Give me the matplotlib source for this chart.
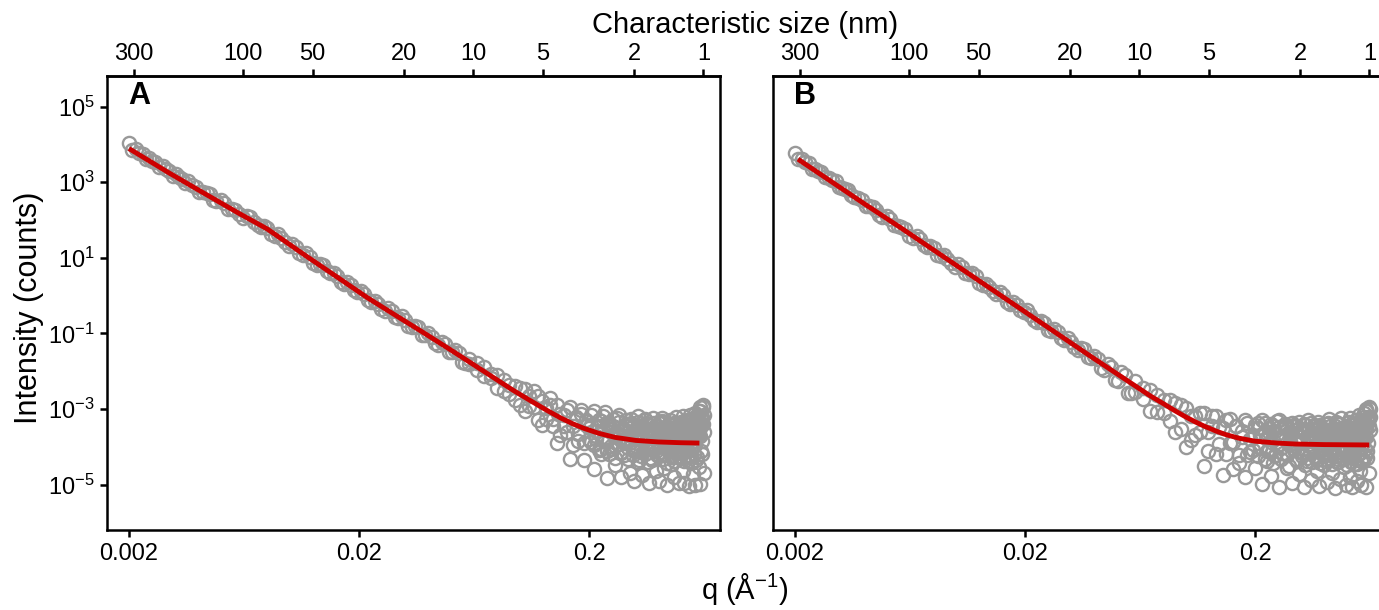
import numpy as np
import matplotlib
matplotlib.use("Agg")
import matplotlib.pyplot as plt
from matplotlib.ticker import NullLocator

plt.rcParams['font.family'] = 'Liberation Sans'
plt.rcParams['mathtext.fontset'] = 'custom'
plt.rcParams['mathtext.rm'] = 'Liberation Sans'
plt.rcParams['mathtext.it'] = 'Liberation Sans:italic'
plt.rcParams['mathtext.bf'] = 'Liberation Sans:bold'

# q grid (1/Å): low-q part (two interleaved sets) and high-q part
q_lo = [0.0020, 0.00215, 0.0023, 0.00245, 0.0026, 0.0028, 0.0030, 0.0032, 0.0034, 0.0036,
        0.0039, 0.0042, 0.0045, 0.0048, 0.0052, 0.0056, 0.0060, 0.0065, 0.0070, 0.0075,
        0.0080, 0.0086, 0.0092, 0.0099, 0.0106, 0.0114, 0.0122, 0.0131, 0.0140, 0.0150,
        0.0161, 0.0172, 0.0184, 0.0197, 0.0211, 0.0226, 0.0242, 0.0259, 0.0277, 0.0296,
        0.0317, 0.0339, 0.0362, 0.0387, 0.0414, 0.0443, 0.0474, 0.0507, 0.0542, 0.0580]
q_lo2 = [0.00207, 0.00222, 0.00237, 0.00252, 0.0027, 0.0029, 0.0031, 0.0033, 0.0035, 0.00375,
         0.00405, 0.00435, 0.00465, 0.0050, 0.0054, 0.0058, 0.00625, 0.00675, 0.00725, 0.00775,
         0.0083, 0.0089, 0.00955, 0.01025, 0.0110, 0.0118, 0.01265, 0.01355, 0.0145, 0.01555,
         0.01665, 0.0178, 0.01905, 0.0204, 0.02185, 0.0234, 0.02505, 0.0268, 0.02865, 0.03065,
         0.0328, 0.03505, 0.03745, 0.04005, 0.04285, 0.04585, 0.04905, 0.05245, 0.0561]
q_hi = [0.060, 0.065, 0.070, 0.075, 0.080, 0.085, 0.090, 0.095, 0.100, 0.105,
        0.110, 0.115, 0.120, 0.125, 0.130, 0.135, 0.140, 0.145, 0.150, 0.155,
        0.160, 0.165, 0.170, 0.175, 0.180, 0.185, 0.190, 0.195, 0.200, 0.205,
        0.210, 0.215, 0.220, 0.225, 0.230, 0.235, 0.240, 0.245, 0.250, 0.255,
        0.260, 0.265, 0.270, 0.275, 0.280, 0.285, 0.290, 0.295, 0.300, 0.305,
        0.310, 0.315, 0.320, 0.325, 0.330, 0.335, 0.340, 0.345, 0.350, 0.355,
        0.360, 0.365, 0.370, 0.375, 0.380, 0.385, 0.390, 0.395, 0.400, 0.405,
        0.410, 0.415, 0.420, 0.425, 0.430, 0.435, 0.440, 0.445, 0.450, 0.455,
        0.460, 0.465, 0.470, 0.475, 0.480, 0.485, 0.490, 0.495, 0.500, 0.505,
        0.510, 0.515, 0.520, 0.525, 0.530, 0.535, 0.540, 0.545, 0.550, 0.555,
        0.560, 0.565, 0.570, 0.575, 0.580, 0.585, 0.590, 0.595, 0.600, 0.605,
        0.610, 0.615, 0.620, 0.625, 0.630]
q_pl = q_hi[29:]  # plateau part, 0.205 and up

# log10(intensity) -- panel A
lg_lo_a = [4.03, 3.87, 3.75, 3.65, 3.53, 3.43, 3.29, 3.21, 3.08, 3.02,
           2.88, 2.74, 2.68, 2.50, 2.44, 2.30, 2.15, 2.11, 1.96, 1.81,
           1.79, 1.58, 1.53, 1.31, 1.29, 1.08, 1.03, 0.81, 0.81, 0.60,
           0.52, 0.31, 0.29, 0.09, 0.05, -0.16, -0.21, -0.40, -0.40, -0.58,
           -0.64, -0.84, -0.83, -1.03, -1.10, -1.30, -1.29, -1.50, -1.51, -1.77]
lg_lo2_a = [3.85, 3.78, 3.61, 3.56, 3.41, 3.35, 3.17, 3.13, 2.98, 2.92,
            2.74, 2.72, 2.52, 2.52, 2.30, 2.26, 2.06, 2.08, 1.86, 1.85,
            1.62, 1.62, 1.41, 1.37, 1.13, 1.12, 0.86, 0.84, 0.64, 0.61,
            0.36, 0.36, 0.14, 0.13, -0.12, -0.13, -0.36, -0.34, -0.56, -0.55,
            -0.79, -0.79, -1.03, -1.00, -1.26, -1.22, -1.50, -1.43, -1.75]
lg_hi_a = [-1.68, -1.98, -1.89, -2.18, -2.09, -2.52, -2.36,
           -2.75, -2.43, -3.04, -2.66, -2.95, -2.65, -3.41, -2.98,
           -2.88, -3.44, -3.90, -3.13, -3.45, -3.03, -4.31, -3.44, -3.20, -3.85, -3.12, -4.35, -3.42, -3.80,
           -3.17, -4.58, -3.80, -3.46, -4.18, -3.19, -3.76, -4.82, -3.40, -4.05,
           -3.66, -4.47, -3.23, -3.92, -4.79, -3.55, -4.21, -3.44, -3.85, -4.68,
           -3.38, -4.08, -4.90, -3.68, -4.40, -3.44, -3.82, -4.75, -3.55, -4.20,
           -3.36, -3.99, -4.96, -3.76, -4.36, -3.54, -4.06, -4.64, -3.44, -3.90,
           -4.91, -3.68, -4.21, -3.34, -4.56, -3.84, -5.01, -3.56, -4.11, -3.41,
           -4.46, -3.96, -3.64, -4.81, -3.48, -4.28, -3.76, -4.96, -3.58, -4.16,
           -3.33, -4.63, -3.83, -4.96, -3.53, -4.08, -3.28, -4.38, -5.03, -3.73,
           -4.23, -3.40, -4.73, -3.63, -3.93, -5.00, -3.18, -4.28, -3.58, -4.53,
           -3.04, -4.99, -3.39, -4.19, -2.94, -4.69]
lg_hi2_a = [-1.82, -1.78, -2.13, -2.07, -2.44, -2.22, -2.59,
            -2.38, -2.89, -2.47, -2.91, -2.53, -3.30, -2.78, -3.27,
            -2.72, -3.25, -2.90, -3.68, -3.17, -3.61, -2.95, -3.94, -3.27, -3.65, -3.03, -3.89, -3.28, -3.50,
            -3.87, -3.05, -3.57, -4.09, -3.31, -3.82, -3.09, -4.10, -3.52, -3.98,
            -3.27, -4.30, -3.66, -3.15, -4.13, -3.49, -3.90, -3.28, -4.31, -3.67,
            -3.27, -4.22, -3.57, -3.98, -3.19, -4.34, -3.76, -3.44, -4.14, -3.27,
            -3.90, -4.40, -3.53, -3.70, -4.31, -3.24, -4.06, -3.41, -4.21, -3.67,
            -3.38, -4.13, -3.23, -4.33, -3.76, -3.50, -4.43, -3.60, -4.00, -3.28,
            -4.23, -3.70, -3.40, -4.38, -3.83, -3.20, -4.16, -3.53, -4.28, -3.33,
            -4.09, -3.47, -3.19, -4.37, -3.67, -3.99, -3.31, -4.27, -3.59, -3.17,
            -4.44, -3.77, -3.39, -4.19, -3.11, -3.84, -4.34, -3.24, -3.64, -3.04,
            -3.45, -2.95, -4.10, -3.20, -2.90, -3.60]
lg_pl_a = [-3.42, -3.95, -3.70, -3.30, -4.05, -3.55, -3.85, -3.38, -4.20, -3.62,
           -3.45, -3.98, -3.72, -3.35, -4.15, -3.58, -3.80, -3.40, -4.02, -3.50,
           -3.88, -3.45, -3.70, -4.10, -3.35, -3.60, -4.25, -3.52, -3.80, -3.30,
           -4.00, -3.65, -3.42, -4.30, -3.58, -3.75, -3.38, -4.12, -3.55, -3.85,
           -3.60, -3.95, -3.32, -3.75, -4.18, -3.48, -3.68, -4.05, -3.40, -3.82,
           -3.55, -4.28, -3.62, -3.36, -3.92, -3.50, -4.08, -3.70, -3.44, -3.98,
           -3.56, -3.90, -3.38, -4.12, -3.64, -3.46, -3.85, -4.22, -3.52, -3.34,
           -3.78, -4.02, -3.48, -3.66, -3.30, -3.95, -3.58, -3.40, -3.72, -3.36,
           -3.50, -3.70, -3.25, -3.85, -3.40, -3.15]

# panel B
lg_lo_b = [3.78, 3.61, 3.52, 3.35, 3.28, 3.11, 3.02, 2.85, 2.79, 2.61,
           2.54, 2.36, 2.27, 2.09, 2.03, 1.83, 1.75, 1.53, 1.49, 1.30,
           1.27, 1.04, 0.98, 0.77, 0.76, 0.56, 0.53, 0.28, 0.24, 0.05,
           0.02, -0.22, -0.24, -0.43, -0.50, -0.71, -0.72, -0.93, -0.95, -1.18,
           -1.22, -1.45, -1.42, -1.66, -1.68, -1.97, -1.89, -2.27, -2.11, -2.58]
lg_lo2_b = [3.62, 3.54, 3.35, 3.29, 3.14, 3.06, 2.87, 2.81, 2.65, 2.58,
            2.38, 2.34, 2.13, 2.11, 1.87, 1.82, 1.59, 1.58, 1.34, 1.31,
            1.08, 1.07, 0.87, 0.83, 0.59, 0.59, 0.33, 0.31, 0.11, 0.09,
            -0.17, -0.17, -0.39, -0.39, -0.64, -0.67, -0.90, -0.89, -1.12, -1.12,
            -1.37, -1.38, -1.63, -1.60, -1.91, -1.81, -2.23, -2.03, -2.57]
lg_hi_b = [-2.54, -2.43, -3.06, -2.64, -3.11, -2.76, -3.60,
           -2.88, -4.01, -3.18, -3.69, -3.10, -4.50, -3.60, -3.19,
           -4.18, -3.47, -4.75, -3.28, -3.91, -4.58, -3.45, -4.22, -3.74, -4.80, -3.36, -4.13, -3.72, -4.55,
           -3.37, -4.02, -4.97, -3.62, -4.37, -3.49, -4.77, -3.82, -4.22, -3.32,
           -5.06, -3.73, -4.16, -3.49, -4.56, -3.96, -3.61, -4.96, -3.43, -4.31,
           -3.83, -4.73, -3.58, -4.13, -5.05, -3.41, -4.38, -3.78, -3.98, -4.88,
           -3.53, -4.23, -3.71, -4.63, -3.88, -5.03, -3.48, -4.08, -3.65, -4.48,
           -3.56, -4.94, -3.82, -4.29, -3.44, -4.69, -4.04, -3.64, -5.09, -3.74,
           -4.39, -3.39, -4.14, -4.84, -3.59, -3.99, -4.54, -3.49, -5.02, -3.79,
           -4.25, -3.35, -4.80, -3.70, -4.10, -5.07, -3.53, -4.45, -3.85, -3.30,
           -4.90, -4.20, -3.60, -4.65, -3.45, -5.00, -3.75, -4.35, -3.20, -4.05,
           -5.05, -3.05, -4.30, -3.35, -4.70, -3.00]
lg_hi2_b = [-2.26, -2.73, -2.50, -3.07, -2.76, -3.31, -2.85,
            -3.53, -2.96, -3.83, -3.19, -3.60, -3.10, -4.10, -3.44,
            -3.18, -3.92, -3.50, -4.18, -3.26, -3.88, -3.45, -4.42, -3.59, -3.30, -4.21, -3.78, -4.09, -3.43,
            -4.23, -3.68, -3.30, -4.33, -3.78, -4.08, -3.40, -4.43, -3.58, -3.98,
            -3.29, -4.31, -3.76, -3.46, -4.21, -4.51, -3.66, -3.36, -4.06, -3.56,
            -4.38, -3.33, -3.88, -4.23, -3.53, -4.48, -3.73, -3.28, -4.13, -3.83,
            -4.41, -3.43, -3.68, -4.28, -3.35, -4.03, -4.43, -3.55, -3.81, -4.18,
            -3.39, -4.34, -3.74, -3.26, -4.09, -4.46, -3.59, -3.86, -4.24, -3.34,
            -3.72, -4.39, -3.52, -3.99, -3.24, -4.32, -3.79, -4.14, -3.44, -4.49,
            -3.65, -4.20, -3.23, -4.40, -3.85, -3.40, -4.30, -3.70, -4.05, -3.30,
            -4.45, -3.55, -3.17, -4.15, -3.80, -4.37, -3.35, -3.90, -3.10, -4.25,
            -3.45, -3.00, -4.10, -3.20, -2.95, -3.55]
lg_pl_b = [-3.50, -4.00, -3.72, -3.38, -4.12, -3.60, -3.88, -3.45, -4.25, -3.66,
           -3.48, -4.02, -3.76, -3.40, -4.18, -3.62, -3.85, -3.44, -4.08, -3.55,
           -3.92, -3.50, -3.74, -4.15, -3.40, -3.64, -4.30, -3.56, -3.84, -3.36,
           -4.04, -3.70, -3.46, -4.35, -3.62, -3.80, -3.42, -4.16, -3.60, -3.90,
           -3.64, -4.00, -3.38, -3.80, -4.22, -3.52, -3.72, -4.10, -3.45, -3.86,
           -3.60, -4.32, -3.66, -3.40, -3.96, -3.55, -4.12, -3.75, -3.48, -4.02,
           -3.60, -3.94, -3.42, -4.16, -3.68, -3.50, -3.90, -4.26, -3.56, -3.38,
           -3.82, -4.06, -3.52, -3.70, -3.34, -4.00, -3.62, -3.44, -3.76, -3.40,
           -3.54, -3.74, -3.30, -3.90, -3.45, -3.20]

# fitted curves (log10 intensity)
fit_q_a = [0.0020, 0.0030, 0.0041, 0.0060, 0.0080, 0.0100, 0.0119, 0.0160, 0.0217, 0.0290,
           0.0368, 0.0482, 0.0650, 0.0934, 0.110, 0.130, 0.150, 0.170, 0.190, 0.220,
           0.260, 0.320, 0.400, 0.500, 0.604]
fit_lg_a = [3.89, 3.24, 2.76, 2.18, 1.76, 1.35, 1.03, 0.50, -0.05, -0.53,
            -0.92, -1.37, -1.88, -2.50, -2.76, -3.02, -3.23, -3.39, -3.51, -3.64,
            -3.75, -3.83, -3.87, -3.89, -3.90]
fit_q_b = [0.00206, 0.0040, 0.00578, 0.0100, 0.0200, 0.0400, 0.0600, 0.0700, 0.0800, 0.0900,
           0.100, 0.110, 0.120, 0.135, 0.150, 0.170, 0.200, 0.250, 0.300, 0.400, 0.627]
fit_lg_b = [3.61, 2.43, 1.79, 0.81, -0.43, -1.67, -2.38, -2.65, -2.86, -3.05,
            -3.21, -3.34, -3.45, -3.58, -3.68, -3.77, -3.85, -3.90, -3.925, -3.94, -3.95]

size_ticks = [300, 100, 50, 20, 10, 5, 2, 1]


def q_to_size(q):
    # 2*pi/q in Å, shown in nm
    return 2 * np.pi / (10 * np.asarray(q, dtype=float))


fig = plt.figure(figsize=(13.79, 6.10), dpi=100)
ax_a = fig.add_axes([0.0776, 0.1311, 0.4445, 0.7443])
ax_b = fig.add_axes([0.5606, 0.1311, 0.4445, 0.7443])

panels = [(ax_a, 'A', [lg_lo_a, lg_lo2_a, lg_hi_a, lg_hi2_a, lg_pl_a], fit_q_a, fit_lg_a),
          (ax_b, 'B', [lg_lo_b, lg_lo2_b, lg_hi_b, lg_hi2_b, lg_pl_b], fit_q_b, fit_lg_b)]
q_sets = [q_lo, q_lo2, q_hi, q_hi, q_pl]

for ax, letter, lg_sets, fq, flg in panels:
    q_pts = np.concatenate(q_sets)
    i_pts = 10 ** np.concatenate(lg_sets)
    ax.plot(q_pts, i_pts, 'o', mfc='none', mec='#999999', ms=9.5, mew=1.7)
    ax.plot(fq, 10 ** np.array(flg), color='#CD0000', lw=3.5, solid_capstyle='butt')

    ax.set_xscale('log')
    ax.set_yscale('log')
    ax.set_xlim(0.001605, 0.742)
    ax.set_ylim(10 ** -6.2, 10 ** 5.81)
    ax.set_xticks([0.002, 0.02, 0.2], ['0.002', '0.02', '0.2'])
    ax.set_yticks([1e5, 1e3, 1e1, 1e-1, 1e-3, 1e-5])
    ax.xaxis.set_minor_locator(NullLocator())
    ax.yaxis.set_minor_locator(NullLocator())
    ax.tick_params(direction='out', length=5, width=1.8, labelsize=17, pad=4)
    for sp in ax.spines.values():
        sp.set_linewidth(1.8)

    top = ax.secondary_xaxis('top', functions=(q_to_size, q_to_size))
    top.set_xticks(size_ticks, [str(s) for s in size_ticks])
    top.xaxis.set_minor_locator(NullLocator())
    top.tick_params(direction='out', length=5, width=1.8, labelsize=17, pad=3)
    top.spines['top'].set_linewidth(1.8)

    ax.text(0.034, 0.955, letter, transform=ax.transAxes, fontsize=22,
            fontweight='bold', ha='left', va='center')

ax_b.tick_params(axis='y', left=False, labelleft=False)

fig.text(0.54, 0.959, 'Characteristic size (nm)', fontsize=21, ha='center', va='center')
fig.text(0.54, 0.035, r'q (Å$^{-1}$)', fontsize=21, ha='center', va='center')
fig.text(0.021, 0.495, 'Intensity (counts)', fontsize=22, rotation=90, ha='center', va='center')

fig.savefig('out.png', dpi=100)
